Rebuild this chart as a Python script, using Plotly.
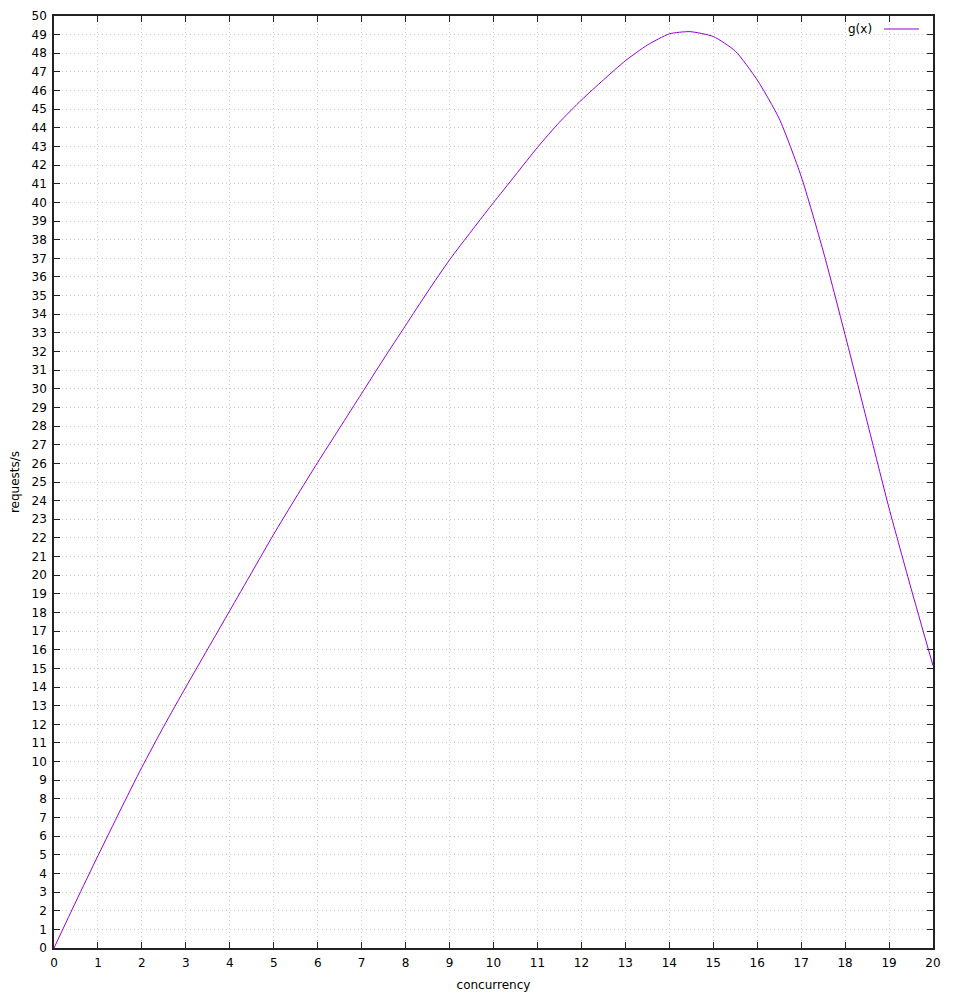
import plotly.graph_objects as go

concurrency = [0, 0.5, 1, 1.5, 2, 2.5, 3, 3.5, 4, 4.5, 5, 5.5, 6, 6.5, 7, 7.5, 8, 8.5, 9, 9.5,
               9.88, 10, 10.5, 11, 11.5, 12, 12.5, 13, 13.5, 14, 14.47, 15, 15.5, 16, 16.5,
               17, 17.5, 18, 18.5, 19, 19.5, 20]
requests = [0, 2.5, 4.95, 7.35, 9.7, 11.9, 14.0, 16.05, 18.1, 20.15, 22.2, 24.15, 26.05, 27.9,
            29.75, 31.6, 33.4, 35.2, 36.92, 38.47, 39.63, 39.99, 41.47, 42.95, 44.3, 45.49,
            46.57, 47.6, 48.44, 49.04, 49.16, 48.9, 48.12, 46.57, 44.5, 41.4, 37.4, 32.9,
            28.25, 23.6, 19.3, 15.15]
series_name = "g(x)"
x_title = "concurrency"
y_title = "requests/s"
x_ticks = list(range(0, 21))
y_ticks = list(range(0, 51))

LINE_COLOR = "#9400D3"
FONT = "DejaVu Sans, sans-serif"

# page body has an 8px margin, so the figure is sized to fit the 954x996 window
W, H = 946, 988
L, R, T, B = 46, 21, 8, 48
PW, PH = W - L - R, H - T - B

fig = go.Figure()
fig.add_trace(go.Scatter(x=concurrency, y=requests, mode="lines", name=series_name,
                         line=dict(color=LINE_COLOR, width=1, shape="spline", smoothing=0.6),
                         showlegend=False))

axis_common = dict(
    showgrid=True, gridcolor="#c8c8c8", griddash="1px,3px", gridwidth=1,
    zeroline=False, showline=True, linecolor="#222", linewidth=1.5,
    ticks="inside", ticklen=6, tickcolor="#222", tickwidth=1, mirror="allticks",
    tickfont=dict(family=FONT, size=12, color="black"),
    ticklabelstandoff=3, automargin=False,
)

fig.update_layout(
    width=W, height=H,
    margin=dict(l=L, r=R, t=T, b=B, autoexpand=False),
    paper_bgcolor="white", plot_bgcolor="white",
    font=dict(family=FONT, size=12, color="black"),
    xaxis=dict(range=[0, 20], tickvals=x_ticks, ticktext=[str(v) for v in x_ticks],
               title=dict(text=x_title, font=dict(family=FONT, size=12), standoff=11),
               **axis_common),
    yaxis=dict(range=[0, 50], tickvals=y_ticks, ticktext=[str(v) for v in y_ticks],
               title=dict(text=y_title, font=dict(family=FONT, size=12), standoff=12),
               **axis_common),
    showlegend=False,
)

# gnuplot-style key: text then line sample, top right
ky = (PH - (29 - 16)) / PH
fig.add_annotation(xref="paper", yref="paper", x=(874 - 54) / PW, y=ky,
                   text=series_name, showarrow=False, xanchor="right", yanchor="middle",
                   font=dict(family=FONT, size=12, color="black"))
fig.add_shape(type="line", xref="paper", yref="paper",
              x0=(884 - 54) / PW, x1=(919 - 54) / PW, y0=ky, y1=ky,
              line=dict(color=LINE_COLOR, width=1))

fig.write_html("out.html")
